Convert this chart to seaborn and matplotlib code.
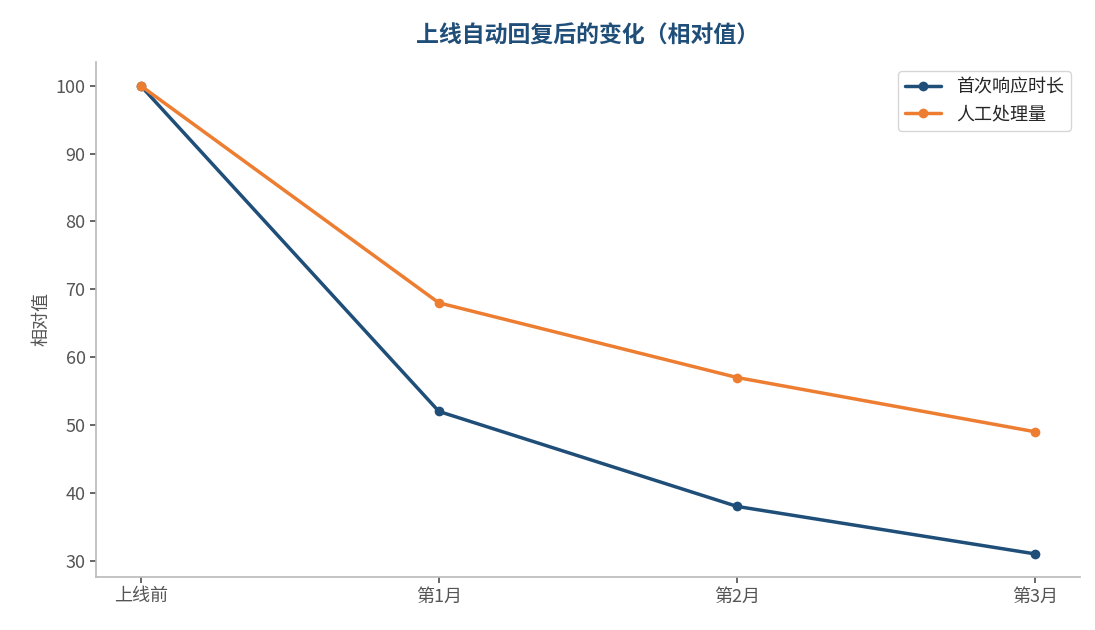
import matplotlib
matplotlib.use("Agg")
import matplotlib.pyplot as plt
import seaborn as sns
import pandas as pd

periods = ["上线前", "第1月", "第2月", "第3月"]
response_time = [100, 52, 38, 31]
manual_volume = [100, 68, 57, 49]
series_names = ["首次响应时长", "人工处理量"]

sns.set_theme(style="white")
plt.rcParams['font.family'] = ['Noto Sans CJK SC', 'DejaVu Sans']

df = pd.DataFrame({
    "period": periods * 2,
    "value": response_time + manual_volume,
    "series": [series_names[0]] * 4 + [series_names[1]] * 4,
})
df["x"] = list(range(4)) * 2

fig = plt.figure(figsize=(10.95, 6.3), dpi=100)
ax = fig.add_axes([96/1095, 1-577/630, (1080-96)/1095, (577-62)/630])
sns.lineplot(data=df, x="x", y="value", hue="series", palette=["#1f4e79", "#ed7d31"],
             marker="o", markersize=7, markeredgewidth=0, linewidth=2.5, ax=ax)
ax.set_xlim(-0.15, 3.15)
ax.set_ylim(27.6, 103.5)
ax.set_xticks(range(4))
ax.set_xticklabels(periods)
ax.set_yticks(range(30, 101, 10))
ax.tick_params(axis="both", colors="#555555", labelsize=13, length=4, left=True, bottom=True)
for s in ["top", "right"]:
    ax.spines[s].set_visible(False)
for s in ["left", "bottom"]:
    ax.spines[s].set_color("#bbbbbb")
ax.set_xlabel("")
ax.set_ylabel("相对值", color="#555555", fontsize=13)
ax.set_title("上线自动回复后的变化（相对值）", color="#1f4e79", fontsize=16.5, fontweight="bold", pad=14)
leg = ax.legend(loc="upper right", fontsize=13, frameon=True)
leg.set_title(None)
fig.savefig("out.png", dpi=100)
